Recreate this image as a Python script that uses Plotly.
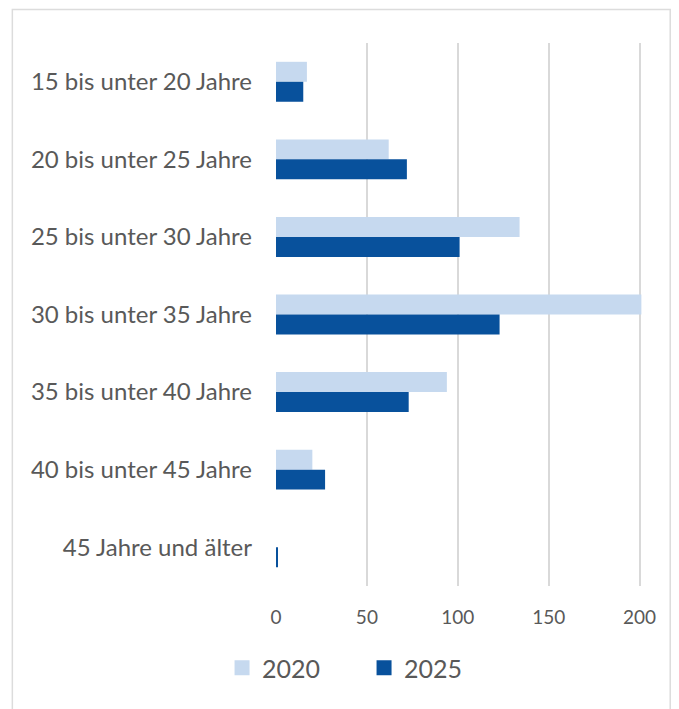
import plotly.graph_objects as go

categories = ["15 bis unter 20 Jahre", "20 bis unter 25 Jahre", "25 bis unter 30 Jahre",
              "30 bis unter 35 Jahre", "35 bis unter 40 Jahre", "40 bis unter 45 Jahre",
              "45 Jahre und älter"]
series_names = ["2020", "2025"]
values_2020 = [17, 62, 134, 201, 94, 20, 0]
values_2025 = [15, 72, 101, 123, 73, 27, 0.8]
x_ticks = [0, 50, 100, 150, 200]
colors = ["#c6d9ef", "#08519c"]

fig = go.Figure()
for name, vals, col in zip(series_names, [values_2020, values_2025], colors):
    fig.add_trace(go.Bar(y=categories, x=vals, name=name, orientation="h",
                         marker=dict(color=col, line=dict(width=0)), showlegend=False))
# legend entries with larger square swatches
for name, col in zip(series_names, colors):
    fig.add_trace(go.Scatter(x=[None], y=[None], mode="markers", name=name,
                             marker=dict(symbol="square", size=15, color=col), showlegend=True))

# page has an 8px body margin; work in figure coordinates
W, H = 671, 701
L, T = 268, 35
plot_right, plot_bottom = 636.8, 578
R, B = W - plot_right, H - plot_bottom
pw = plot_right - L
ph = plot_bottom - T

def px_x(p):
    return (p - L) / pw

def px_y(p):
    return (plot_bottom - p) / ph

fig.update_layout(
    width=W, height=H,
    margin=dict(l=L, r=R, t=T, b=B, autoexpand=False),
    paper_bgcolor="white", plot_bgcolor="white",
    barmode="group", bargap=0.485, bargroupgap=0,
    font=dict(family="Lato", color="#595959"),
    showlegend=True,
    legend=dict(orientation="h", x=px_x(356), y=px_y(660), xanchor="center", yanchor="middle",
                font=dict(size=25, color="#595959"), entrywidth=97, entrywidthmode="pixels",
                itemsizing="trace"),
    xaxis=dict(range=[0, 203], tickvals=x_ticks, showgrid=True, gridcolor="#d9d9d9", gridwidth=1.5,
               zeroline=False, showline=False, tickfont=dict(size=19, color="#595959"),
               ticks="", ticklabelstandoff=18, fixedrange=True),
    yaxis=dict(autorange="reversed", showgrid=False, zeroline=False, showline=False,
               tickfont=dict(size=24, color="#595959"), ticks="", ticklabelstandoff=23),
    shapes=[dict(type="rect", xref="paper", yref="paper",
                 x0=px_x(4.5), x1=px_x(662), y0=px_y(760), y1=px_y(1.5),
                 line=dict(color="#dcdcdc", width=1.5), fillcolor="rgba(0,0,0,0)", layer="below")],
)

fig.write_html("out.html")
